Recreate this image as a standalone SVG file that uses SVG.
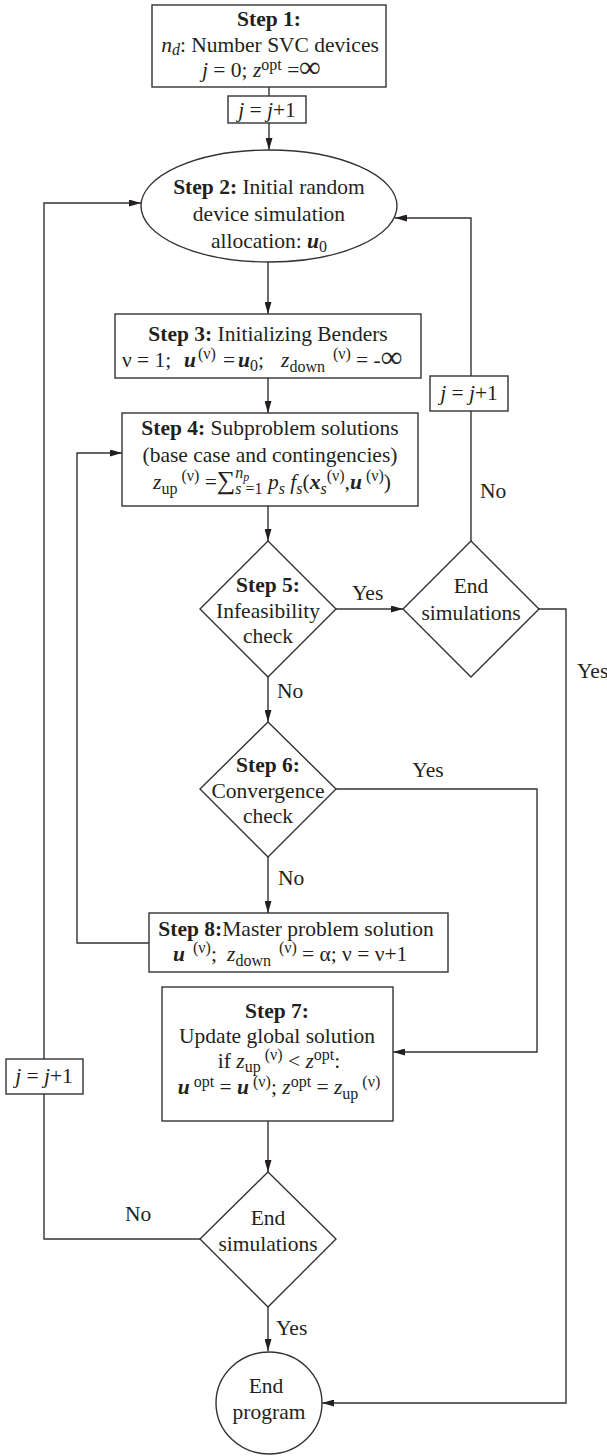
<svg xmlns="http://www.w3.org/2000/svg" width="607" height="1456" viewBox="0 0 607 1456">
<defs>
<style>
.t{font-family:'Liberation Serif','Times New Roman','DejaVu Serif',serif;font-size:21.5px;fill:#231f20}
.c{text-anchor:middle}
.b{font-weight:bold}
.i{font-style:italic}
.bi{font-weight:bold;font-style:italic}
.s{font-size:16px}
.ss{font-size:12px}
.inf{font-size:30px;font-weight:bold}
.n{fill:#fff;stroke:#333;stroke-width:1.4}
.e{fill:none;stroke:#333;stroke-width:1.4}
</style>
<marker id="ah" viewBox="0 0 12 7" refX="12" refY="3.5" markerWidth="12" markerHeight="7" markerUnits="userSpaceOnUse" orient="auto">
<path d="M0,0 L12,3.5 L0,7 z" fill="#231f20"/>
</marker>
</defs>
<rect width="607" height="1456" fill="#fff"/>

<g id="connectors">
<path class="e" d="M269,87 V96"/>
<path class="e" d="M269,123 V150" marker-end="url(#ah)"/>
<path class="e" d="M268,262 V314" marker-end="url(#ah)"/>
<path class="e" d="M268,378 V413" marker-end="url(#ah)"/>
<path class="e" d="M268,506 V541" marker-end="url(#ah)"/>
<path class="e" d="M336,609 H403" marker-end="url(#ah)"/>
<path class="e" d="M471,541 V411"/>
<path class="e" d="M471,376 V218 H395" marker-end="url(#ah)"/>
<path class="e" d="M539,609 H566 V1403 H322" marker-end="url(#ah)"/>
<path class="e" d="M268,677 V722" marker-end="url(#ah)"/>
<path class="e" d="M336,789 H537 V1052 H393" marker-end="url(#ah)"/>
<path class="e" d="M268,857 V913" marker-end="url(#ah)"/>
<path class="e" d="M149,943 H77 V453 H122" marker-end="url(#ah)"/>
<path class="e" d="M268,1121 V1172" marker-end="url(#ah)"/>
<path class="e" d="M200,1239 H44 V1094"/>
<path class="e" d="M44,1059 V203 H141" marker-end="url(#ah)"/>
<path class="e" d="M268,1307 V1351" marker-end="url(#ah)"/>
<text class="t" x="352" y="600">Yes</text>
<text class="t" x="480" y="498">No</text>
<text class="t" x="577" y="678">Yes</text>
<text class="t" x="277" y="698">No</text>
<text class="t c" x="428" y="777">Yes</text>
<text class="t" x="278" y="885">No</text>
<text class="t" x="125" y="1221">No</text>
<text class="t" x="276" y="1335">Yes</text>
</g>

<g id="step1">
<rect class="n" x="152" y="5" width="234" height="82"/>
<text class="t c b" x="269" y="26">Step 1:</text>
<text class="t c" x="270" y="52"><tspan class="i">n</tspan><tspan class="i s" dy="3">d</tspan><tspan dy="-3">: Number SVC devices</tspan></text>
<text class="t" x="202" y="77"><tspan class="i">j</tspan> = 0; <tspan class="i">z</tspan><tspan class="s" dy="-7">opt</tspan><tspan dy="7"> =</tspan><tspan class="inf" font-size="27">∞</tspan></text>
</g>

<g id="jinc1">
<rect class="n" x="228" y="96" width="78" height="27"/>
<text class="t c" x="267" y="117"><tspan class="i">j</tspan> = <tspan class="i">j</tspan>+1</text>
</g>

<g id="step2">
<ellipse class="n" cx="269" cy="206" rx="128" ry="56"/>
<text class="t c" x="269" y="194"><tspan class="b">Step 2:</tspan> Initial random</text>
<text class="t c" x="269" y="221">device simulation</text>
<text class="t c" x="269" y="248">allocation: <tspan class="bi">u</tspan><tspan class="s" dy="4">0</tspan></text>
</g>

<g id="step3">
<rect class="n" x="115" y="314" width="306" height="64"/>
<text class="t c" x="268" y="341"><tspan class="b">Step 3:</tspan> Initializing Benders</text>
<text class="t" x="122" y="367">ν = 1;<tspan class="bi" x="184">u</tspan><tspan class="s" x="198" dy="-8">(ν)</tspan><tspan x="223" dy="8">=</tspan><tspan class="bi" x="238">u</tspan><tspan class="s" dy="4">0</tspan><tspan dy="-4">;</tspan><tspan class="i" x="281">z</tspan><tspan class="s" dy="5">down</tspan><tspan class="s" x="333" dy="-13">(ν)</tspan><tspan x="356" dy="8">= -</tspan><tspan class="inf" x="381">∞</tspan></text>
</g>

<g id="jinc2">
<rect class="n" x="430" y="376" width="78" height="35"/>
<text class="t c" x="469" y="400"><tspan class="i">j</tspan> = <tspan class="i">j</tspan>+1</text>
</g>

<g id="step4">
<rect class="n" x="122" y="413" width="296" height="93"/>
<text class="t c" x="270" y="435"><tspan class="b">Step 4:</tspan> Subproblem solutions</text>
<text class="t c" x="270" y="462">(base case and contingencies)</text>
<text class="t c" x="272" y="489"><tspan class="i">z</tspan><tspan class="s" dy="5">up</tspan><tspan class="s" dy="-13"> (ν)</tspan><tspan dy="8"> =</tspan><tspan font-size="26">∑</tspan><tspan class="s i" dy="-11">n</tspan><tspan class="ss i" dy="3">p</tspan><tspan class="s i" dx="-14" dy="13">s</tspan><tspan class="s"> =1</tspan><tspan class="i" dy="-5"> p</tspan><tspan class="s i" dy="5">s</tspan><tspan class="i" dy="-5"> f</tspan><tspan class="s i" dy="5">s</tspan><tspan dy="-5">(</tspan><tspan class="bi">x</tspan><tspan class="s i" dy="5">s</tspan><tspan class="s" dy="-13">(ν)</tspan><tspan dy="8">,</tspan><tspan class="bi">u</tspan><tspan class="s" dy="-8"> (ν)</tspan><tspan dy="8">)</tspan></text>
</g>

<g id="step5">
<path class="n" d="M268,541 L336,609 L268,677 L200,609 Z"/>
<text class="t c b" x="268" y="592">Step 5:</text>
<text class="t c" x="268" y="618">Infeasibility</text>
<text class="t c" x="268" y="643">check</text>
</g>

<g id="endsim1">
<path class="n" d="M471,541 L539,609 L471,677 L403,609 Z"/>
<text class="t c" x="471" y="593">End</text>
<text class="t c" x="471" y="620">simulations</text>
</g>

<g id="step6">
<path class="n" d="M268,722 L336,789 L268,857 L200,789 Z"/>
<text class="t c b" x="268" y="772">Step 6:</text>
<text class="t c" x="268" y="798">Convergence</text>
<text class="t c" x="268" y="823">check</text>
</g>

<g id="step8">
<rect class="n" x="149" y="913" width="299" height="59"/>
<text class="t c" x="296" y="936"><tspan class="b">Step 8:</tspan>Master problem solution</text>
<text class="t" x="173" y="961"><tspan class="bi">u</tspan><tspan class="s" x="193" dy="-8">(ν)</tspan><tspan dy="8">;</tspan><tspan class="i" x="227">z</tspan><tspan class="s" dy="5">down</tspan><tspan class="s" x="279" dy="-13">(ν)</tspan><tspan x="302" dy="8">= α; ν = ν+1</tspan></text>
</g>

<g id="jinc3">
<rect class="n" x="6" y="1059" width="77" height="35"/>
<text class="t c" x="44" y="1083"><tspan class="i">j</tspan> = <tspan class="i">j</tspan>+1</text>
</g>

<g id="step7">
<rect class="n" x="162" y="987" width="231" height="134"/>
<text class="t c b" x="277" y="1018">Step 7:</text>
<text class="t c" x="277" y="1043">Update global solution</text>
<text class="t c" x="279" y="1068">if <tspan class="i">z</tspan><tspan class="s" dy="4">up</tspan><tspan class="s" dy="-12"> (ν)</tspan><tspan dy="8"> &lt; </tspan><tspan class="i">z</tspan><tspan class="s" dy="-8">opt</tspan><tspan dy="8">:</tspan></text>
<text class="t c" x="279" y="1094"><tspan class="bi">u</tspan><tspan class="s" dy="-7"> opt</tspan><tspan dy="7"> = </tspan><tspan class="bi">u</tspan><tspan class="s" dy="-7"> (ν)</tspan><tspan dy="7">; </tspan><tspan class="i">z</tspan><tspan class="s" dy="-7">opt</tspan><tspan dy="7"> = </tspan><tspan class="i">z</tspan><tspan class="s" dy="5">up</tspan><tspan class="s" dy="-12"> (ν)</tspan></text>
</g>

<g id="endsim2">
<path class="n" d="M268,1172 L336,1239 L268,1307 L200,1239 Z"/>
<text class="t c" x="268" y="1225">End</text>
<text class="t c" x="268" y="1251">simulations</text>
</g>

<g id="endprogram">
<ellipse class="n" cx="269" cy="1403" rx="53" ry="51"/>
<text class="t c" x="266" y="1393">End</text>
<text class="t c" x="269" y="1419">program</text>
</g>
</svg>
